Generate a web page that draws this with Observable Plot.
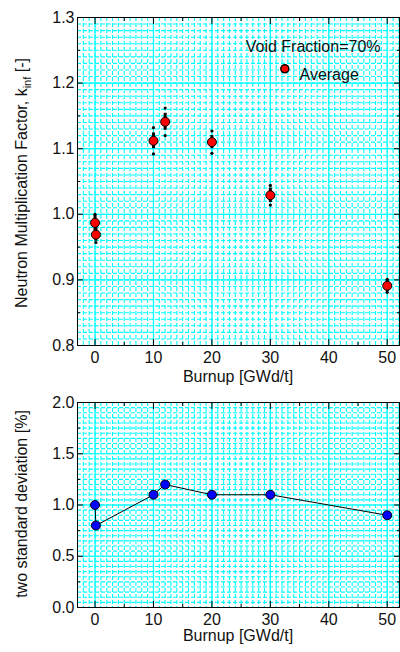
<!DOCTYPE html>
<html><head><meta charset="utf-8">
<script src="https://cdn.jsdelivr.net/npm/d3@7"></script>
<script src="https://cdn.jsdelivr.net/npm/@observablehq/plot@0.6"></script>
<style>
body{margin:0;background:#fff;font-family:"Liberation Sans",Arial,sans-serif;}
#c{position:relative;width:400px;height:652px;}
#c svg{display:block;}
</style></head><body><div id="c"></div>
<script>
// ---- data ----
const burnup   = [0, 0.15, 10, 12, 20, 30, 50];
const kinf     = [0.987, 0.969, 1.112, 1.141, 1.110, 1.029, 0.891];
const barHalf  = [0.012, 0.010, 0.012, 0.013, 0.010, 0.011, 0.009];
const dotOff   = [0.013, 0.012, 0.020, 0.021, 0.017, 0.015, 0.010];
const twoSigma = [1.0, 0.8, 1.1, 1.2, 1.1, 1.1, 0.9];
const xTicks      = [0, 10, 20, 30, 40, 50];
const xMinorTicks = [5, 15, 25, 35, 45];
const topYTicks   = [0.8, 0.9, 1.0, 1.1, 1.2, 1.3];
const topYMinor   = [0.85, 0.95, 1.05, 1.15, 1.25];
const botYTicks   = [0.0, 0.5, 1.0, 1.5, 2.0];
const botYMinor   = [0.25, 0.75, 1.25, 1.75];
const legendTitle = "Void Fraction=70%";
const legendItem  = "Average";

const FONT = '"Liberation Sans", Arial, sans-serif';
const FS = 16;
const CY = "#00ffff";
const xDomain = [-3, 52.1];
const xMinorGrid = d3.range(-3, 53, 1);

function frameMarks(yMajor, yMinor, yMinorGrid, yFmt) {
  return [
    Plot.ruleX(xMinorGrid, {stroke: CY, strokeWidth: 1.1, strokeDasharray: "4,2"}),
    Plot.ruleY(yMinorGrid, {stroke: CY, strokeWidth: 1.1, strokeDasharray: "4,2"}),
    Plot.ruleX(xTicks, {stroke: CY, strokeWidth: 1.2}),
    Plot.ruleY(yMajor, {stroke: CY, strokeWidth: 1.2}),
    Plot.frame({stroke: "black", strokeWidth: 1}),
    Plot.axisX(xTicks, {anchor: "bottom", tickSize: -6, tickFormat: () => "", label: null}),
    Plot.axisX(xMinorTicks, {anchor: "bottom", tickSize: -3, tickFormat: () => "", label: null}),
    Plot.axisX(xTicks, {anchor: "top", tickSize: -6, tickFormat: () => "", label: null}),
    Plot.axisX(xMinorTicks, {anchor: "top", tickSize: -3, tickFormat: () => "", label: null}),
    Plot.axisY(yMajor, {anchor: "left", tickSize: -6, tickFormat: () => "", label: null}),
    Plot.axisY(yMinor, {anchor: "left", tickSize: -3, tickFormat: () => "", label: null}),
    Plot.axisY(yMajor, {anchor: "right", tickSize: -6, tickFormat: () => "", label: null}),
    Plot.axisY(yMinor, {anchor: "right", tickSize: -3, tickFormat: () => "", label: null}),
    Plot.axisX(xTicks, {anchor: "bottom", tickSize: 0, tickPadding: 6, fontSize: FS, fill: "#111", tickFormat: d3.format("d"), label: null}),
    Plot.axisY(yMajor, {anchor: "left", tickSize: 0, tickPadding: 3, fontSize: FS, fill: "#111", tickFormat: yFmt, label: null})
  ];
}

function addText(svg, x, y, rotate, parts) {
  const t = d3.select(svg).append("text")
    .attr("transform", `translate(${x},${y})` + (rotate ? " rotate(-90)" : ""))
    .attr("text-anchor", "middle").attr("font-size", FS)
    .attr("font-family", FONT).attr("fill", "#111");
  for (const p of parts) {
    const s = t.append("tspan").text(p.t);
    if (p.size) s.attr("font-size", p.size);
    if (p.dy) s.attr("dy", p.dy);
  }
}

// ---- top panel ----
const topData = burnup.map((b, i) => ({b, k: kinf[i], bar: barHalf[i], off: dotOff[i]}));
const tipDots = topData.flatMap(d => [{b: d.b, k: d.k - d.off}, {b: d.b, k: d.k + d.off}]);
const fmt1 = d3.format(".1f");

const topPlot = Plot.plot({
  width: 400, height: 390,
  marginLeft: 77, marginRight: 1, marginTop: 17, marginBottom: 45,
  x: {domain: xDomain, label: null},
  y: {domain: [0.8, 1.3], label: null},
  axis: null,
  style: {fontFamily: FONT, background: "white", overflow: "visible"},
  marks: [
    ...frameMarks(topYTicks, topYMinor, d3.range(0, 51).map(i => 0.8 + i * 0.01), fmt1),
    Plot.dot(tipDots, {x: "b", y: "k", r: 1.6, fill: "black"}),
    Plot.ruleX(topData, {x: "b", y1: d => d.k - d.bar, y2: d => d.k + d.bar, stroke: "black", strokeWidth: 3}),
    Plot.dot(topData, {x: "b", y: "k", r: 4.5, fill: "#ff0000", stroke: "black", strokeWidth: 1}),
    Plot.text([legendTitle], {text: d => d, frameAnchor: "top-right", dx: -19, dy: 23, fontSize: FS, fill: "#111", textAnchor: "end"}),
    Plot.dot([legendItem], {x: null, y: null, frameAnchor: "top-right", dx: -114.7, dy: 51.3, r: 4, fill: "#ff0000", stroke: "black"}),
    Plot.text([legendItem], {text: d => d, frameAnchor: "top-right", dx: -100, dy: 51.3, fontSize: FS, fill: "#111", textAnchor: "start"})
  ]
});
addText(topPlot, 27, 183, true, [
  {t: "Neutron Multiplication Factor, k"},
  {t: "inf", size: 11, dy: 4},
  {t: " [-]", dy: -4}
]);
addText(topPlot, 238, 382, false, [{t: "Burnup [GWd/t]"}]);

// ---- bottom panel ----
const botData = burnup.map((b, i) => ({b, s: twoSigma[i]}));
const botPlot = Plot.plot({
  width: 400, height: 262,
  marginLeft: 77, marginRight: 1, marginTop: 12, marginBottom: 45,
  x: {domain: xDomain, label: null},
  y: {domain: [0, 2], label: null},
  axis: null,
  style: {fontFamily: FONT, background: "white", overflow: "visible"},
  marks: [
    ...frameMarks(botYTicks, botYMinor, d3.range(0, 41).map(i => i * 0.05), fmt1),
    Plot.line(botData, {x: "b", y: "s", stroke: "black", strokeWidth: 1}),
    Plot.dot(botData, {x: "b", y: "s", r: 4.5, fill: "#0000ff", stroke: "black", strokeWidth: 1})
  ]
});
addText(botPlot, 27, 114, true, [{t: "two standard deviation [%]"}]);
addText(botPlot, 238, 251, false, [{t: "Burnup [GWd/t]"}]);

document.getElementById("c").append(topPlot, botPlot);
</script>
</body></html>
